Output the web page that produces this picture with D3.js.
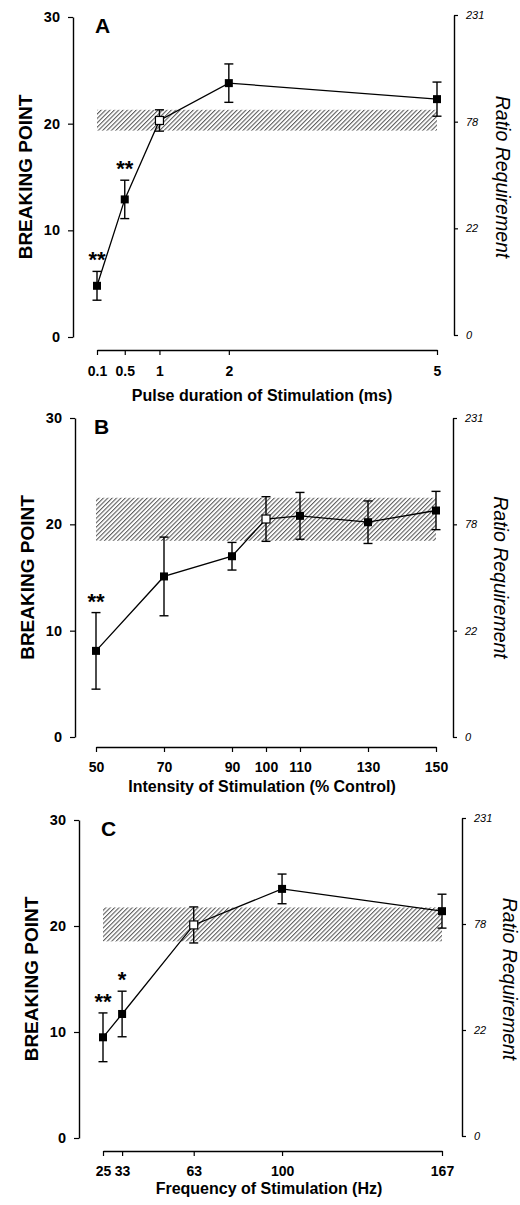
<!DOCTYPE html>
<html>
<head>
<meta charset="utf-8">
<script src="https://cdn.jsdelivr.net/npm/d3@7"></script>
<style>
body { margin: 0; background: #fff; }
svg { display: block; font-family: "Liberation Sans", Arial, Helvetica, sans-serif; }
</style>
</head>
<body>
<svg id="fig" width="520" height="1205"></svg>
<script>

// A: pulse duration (ms)
var pulseDur  = [0.1, 0.5, 1, 2, 5];
var pulseBP   = [4.8, 12.9, 20.3, 23.8, 22.3];
var pulseSem  = [1.35, 1.8, 1.0, 1.8, 1.6];
var pulseSig  = ["**", "**", "", "", ""];
var pulseBand = [19.35, 21.3];

// B: intensity (% control)
var intens     = [50, 70, 90, 100, 110, 130, 150];
var intensBP   = [8.1, 15.1, 17.0, 20.5, 20.8, 20.2, 21.3];
var intensSem  = [3.6, 3.7, 1.3, 2.1, 2.2, 2.0, 1.8];
var intensSig  = ["**", "", "", "", "", "", ""];
var intensBand = [18.45, 22.5];

// C: frequency (Hz)
var freq     = [25, 33, 63, 100, 167];
var freqBP   = [9.5, 11.7, 20.1, 23.5, 21.4];
var freqSem  = [2.3, 2.15, 1.7, 1.4, 1.6];
var freqSig  = ["**", "*", "", "", ""];
var freqBand = [18.55, 21.75];

// shared axes
var bpTicks    = [0, 10, 20, 30];
var ratioTicks = [0, 22, 78, 231];   // ratio requirement at those breaking points

var panels = [
  {letter: "A", x: pulseDur, y: pulseBP, sem: pulseSem, sig: pulseSig, band: pulseBand, control: 1,
   title: "Pulse duration of Stimulation (ms)",
   lay: {yTop: 17, yBot: 337, axisX: 73, x0: 97, x1: 437, axisY: 350, rightX: 454, rightDy: -2,
         pad: 11, titleX: 262, titleY: 401, bpX: 25, ratX: 502}},
  {letter: "B", x: intens, y: intensBP, sem: intensSem, sig: intensSig, band: intensBand, control: 100,
   title: "Intensity of Stimulation (% Control)",
   lay: {yTop: 418, yBot: 737, axisX: 75, x0: 96, x1: 436, axisY: 747, rightX: 453, rightDy: 0,
         pad: 10, titleX: 262, titleY: 792, bpX: 27, ratX: 500}},
  {letter: "C", x: freq, y: freqBP, sem: freqSem, sig: freqSig, band: freqBand, control: 63,
   title: "Frequency of Stimulation (Hz)",
   lay: {yTop: 820, yBot: 1138, axisX: 79, x0: 103, x1: 442, axisY: 1151, rightX: 462, rightDy: -2,
         pad: 10, titleX: 269, titleY: 1194, bpX: 31, ratX: 509}}
];

var svg = d3.select("#fig");

// diagonal hatch for control range
svg.append("defs").append("pattern")
   .attr("id", "hatch")
   .attr("patternUnits", "userSpaceOnUse")
   .attr("width", 3.1).attr("height", 3.1)
   .attr("patternTransform", "rotate(45)")
  .append("line")
   .attr("x1", 0.6).attr("y1", 0).attr("x2", 0.6).attr("y2", 3.1)
   .attr("stroke", "#222").attr("stroke-width", 0.8);

panels.forEach(drawPanel);

function drawPanel(p) {
    var L = p.lay;
    var g = svg.append("g");

    var x = d3.scaleLinear().domain([p.x[0], p.x[p.x.length - 1]]).range([L.x0, L.x1]);
    var y = d3.scaleLinear().domain([0, 30]).range([L.yBot, L.yTop]);

    // left axis
    var left = g.append("g")
        .attr("transform", `translate(${L.axisX},0)`)
        .call(d3.axisLeft(y).tickValues(bpTicks).tickSize(5).tickSizeOuter(0).tickPadding(8));
    left.selectAll("text").attr("font-size", 14.5).attr("font-weight", "bold").attr("fill", "#000");

    // right axis (ratio requirement)
    var right = g.append("g")
        .attr("transform", `translate(${L.rightX},${L.rightDy})`)
        .call(d3.axisRight(y).tickValues(bpTicks).tickFormat((d, i) => ratioTicks[i])
                .tickSize(4).tickSizeOuter(0).tickPadding(8));
    right.selectAll("text").attr("font-size", 11).attr("font-style", "italic").attr("fill", "#000");

    // bottom axis
    var bottom = g.append("g")
        .attr("transform", `translate(0,${L.axisY})`)
        .call(d3.axisBottom(x).tickValues(p.x).tickFormat(d => d).tickSize(5).tickSizeOuter(0).tickPadding(L.pad));
    bottom.selectAll("text").attr("font-size", 14).attr("font-weight", "bold").attr("fill", "#000");

    g.selectAll(".domain").attr("stroke", "#000").attr("stroke-width", 1.4);
    g.selectAll(".tick line").attr("stroke", "#000").attr("stroke-width", 1.2);

    // titles
    g.append("text")
        .attr("x", L.titleX).attr("y", L.titleY)
        .attr("text-anchor", "middle")
        .attr("font-size", 16).attr("font-weight", "bold")
        .text(p.title);

    g.append("text")
        .attr("transform", `translate(${L.bpX + 7},${(L.yTop + L.yBot) / 2}) rotate(-90)`)
        .attr("text-anchor", "middle")
        .attr("font-size", 19).attr("font-weight", "bold")
        .text("BREAKING POINT");

    g.append("text")
        .attr("transform", `translate(${L.ratX - 6},${(L.yTop + L.yBot) / 2}) rotate(90)`)
        .attr("text-anchor", "middle")
        .attr("font-size", 19.5).attr("font-style", "italic")
        .text("Ratio Requirement");

    g.append("text")
        .attr("x", x(p.x[0]) - 2).attr("y", y(30) + 16)
        .attr("font-size", 21).attr("font-weight", "bold")
        .text(p.letter);

    // control range band
    g.append("rect")
        .attr("x", x(p.x[0])).attr("width", x(p.x[p.x.length - 1]) - x(p.x[0]))
        .attr("y", y(p.band[1])).attr("height", y(p.band[0]) - y(p.band[1]))
        .attr("fill", "url(#hatch)");

    var pts = p.x.map((v, i) => ({x: v, y: p.y[i], sem: p.sem[i], sig: p.sig[i]}));

    g.append("path")
        .datum(pts)
        .attr("fill", "none").attr("stroke", "#000").attr("stroke-width", 1.3)
        .attr("d", d3.line().x(d => x(d.x)).y(d => y(d.y)));

    // error bars
    var eb = g.append("g").attr("stroke", "#000").attr("stroke-width", 1.4);
    eb.selectAll("line.v").data(pts).join("line")
        .attr("x1", d => x(d.x)).attr("x2", d => x(d.x))
        .attr("y1", d => y(d.y + d.sem)).attr("y2", d => y(d.y - d.sem));
    eb.selectAll("line.t").data(pts).join("line")
        .attr("x1", d => x(d.x) - 4.5).attr("x2", d => x(d.x) + 4.5)
        .attr("y1", d => y(d.y + d.sem)).attr("y2", d => y(d.y + d.sem));
    eb.selectAll("line.b").data(pts).join("line")
        .attr("x1", d => x(d.x) - 4.5).attr("x2", d => x(d.x) + 4.5)
        .attr("y1", d => y(d.y - d.sem)).attr("y2", d => y(d.y - d.sem));

    // markers, control point open
    g.selectAll("rect.pt").data(pts).join("rect")
        .attr("class", "pt")
        .attr("x", d => x(d.x) - 4).attr("y", d => y(d.y) - 4)
        .attr("width", 8).attr("height", 8)
        .attr("fill", d => d.x == p.control ? "#fff" : "#000")
        .attr("stroke", "#000").attr("stroke-width", d => d.x == p.control ? 1.2 : 0);

    // significance stars
    g.selectAll("text.sig").data(pts.filter(d => d.sig)).join("text")
        .attr("class", "sig")
        .attr("x", d => x(d.x)).attr("y", d => y(d.y + d.sem) - 4)
        .attr("text-anchor", "middle")
        .attr("font-size", 22).attr("font-weight", "bold")
        .text(d => d.sig);
}

</script>
</body>
</html>
